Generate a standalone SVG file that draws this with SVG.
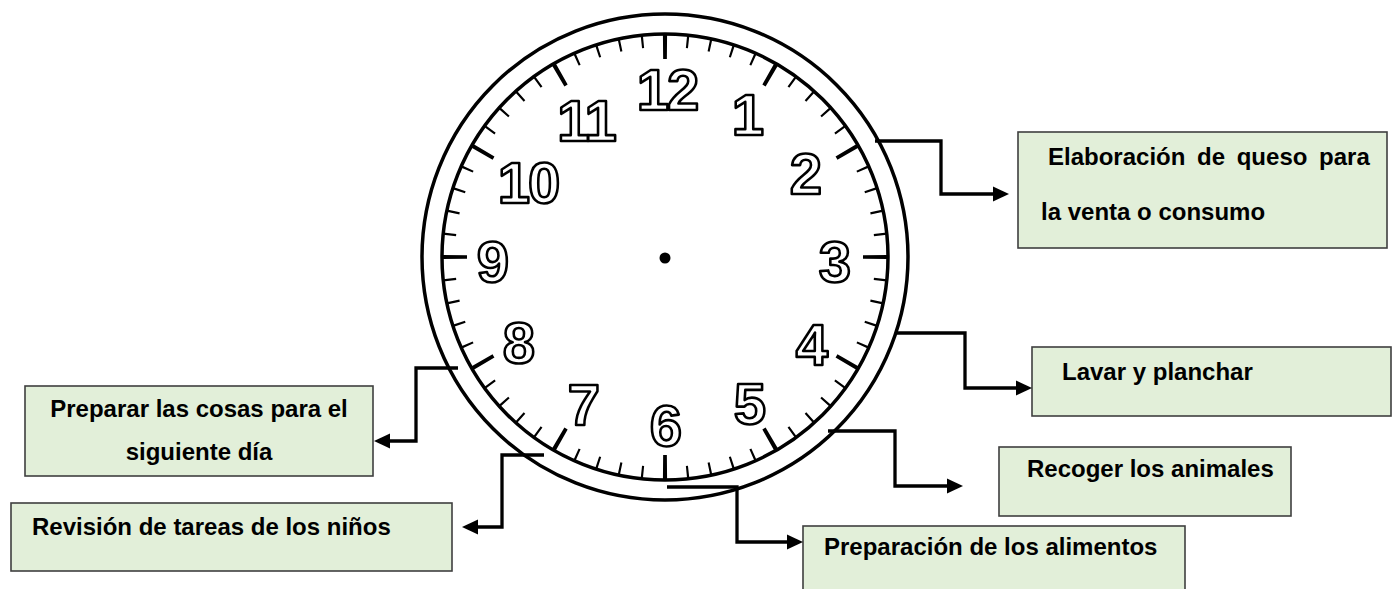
<svg xmlns="http://www.w3.org/2000/svg" width="1393" height="589" viewBox="0 0 1393 589">
<style>
.ring{fill:none;stroke:#000;stroke-width:3.5}
.num{font-family:"Liberation Sans",Arial,sans-serif;font-weight:bold;font-size:58px;fill:#fff;stroke:#000;stroke-width:2.6;stroke-linejoin:round;text-anchor:middle}
.box{fill:#e2efd9;stroke:#3f3f3f;stroke-width:1.6}
.lbl{font-family:"Liberation Sans",Arial,sans-serif;font-weight:bold;font-size:24px;fill:#000}
.conn{fill:none;stroke:#000;stroke-width:3.3;stroke-linejoin:miter;marker-end:url(#arr)}
</style>
<defs>
<marker id="arr" markerUnits="userSpaceOnUse" markerWidth="20" markerHeight="20" refX="2" refY="0" orient="auto" overflow="visible">
<path d="M0,-7.5 L16,0 L0,7.5 Z" fill="#000"/>
</marker>
</defs>
<rect width="1393" height="589" fill="#fff"/>
<g id="clock">
<circle class="ring" cx="665" cy="257" r="243"/>
<circle class="ring" cx="665" cy="257" r="223"/>
<circle cx="665" cy="257" r="216.5" fill="none" stroke="#000" stroke-width="13" pathLength="360" stroke-dasharray="0.58 5.42" stroke-dashoffset="0.29"/>
<circle cx="665" cy="257" r="210.5" fill="none" stroke="#000" stroke-width="25" pathLength="360" stroke-dasharray="1.09 28.91" stroke-dashoffset="0.545"/>
<circle cx="665" cy="258" r="5.5" fill="#000"/>
<text class="num" x="667" y="110" letter-spacing="-2">12</text>
<text class="num" x="748" y="135">1</text>
<text class="num" x="806" y="194">2</text>
<text class="num" x="835" y="282">3</text>
<text class="num" x="812" y="365">4</text>
<text class="num" x="750" y="424">5</text>
<text class="num" x="666" y="446">6</text>
<text class="num" x="584" y="425">7</text>
<text class="num" x="519" y="363">8</text>
<text class="num" x="493" y="282">9</text>
<text class="num" x="528" y="203" letter-spacing="-2">10</text>
<text class="num" x="586" y="141" letter-spacing="-2">11</text>
</g>
<g id="n-queso">
<rect class="box" x="1018" y="132" width="369" height="116"/>
<text class="lbl" x="1048" y="165" word-spacing="5">Elaboración de queso para</text>
<text class="lbl" x="1041" y="220">la venta o consumo</text>
</g>
<g id="n-lavar">
<rect class="box" x="1032" y="347" width="359" height="69"/>
<text class="lbl" x="1062" y="380">Lavar y planchar</text>
</g>
<g id="n-recoger">
<rect class="box" x="999" y="447" width="292" height="69"/>
<text class="lbl" x="1027" y="477">Recoger los animales</text>
</g>
<g id="n-alimentos">
<rect class="box" x="803" y="526" width="382" height="72"/>
<text class="lbl" x="824" y="555">Preparación de los alimentos</text>
</g>
<g id="n-preparar">
<rect class="box" x="25" y="386" width="348" height="90"/>
<text class="lbl" x="199" y="417" text-anchor="middle">Preparar las cosas para el</text>
<text class="lbl" x="199" y="460" text-anchor="middle">siguiente día</text>
</g>
<g id="n-revision">
<rect class="box" x="11" y="503" width="441" height="68"/>
<text class="lbl" x="32" y="535">Revisión de tareas de los niños</text>
</g>
<g id="connectors">
<polyline class="conn" points="875,141 941,141 941,194 995,194"/>
<polyline class="conn" points="896,333 965,333 965,388 1018,388"/>
<polyline class="conn" points="828,431 895,431 895,486 949,486"/>
<polyline class="conn" points="667,487 737,487 737,542 789,542"/>
<polyline class="conn" points="458,368 416,368 416,441 388,441"/>
<polyline class="conn" points="544,455 502,455 502,527 476,527"/>
</g>
</svg>
